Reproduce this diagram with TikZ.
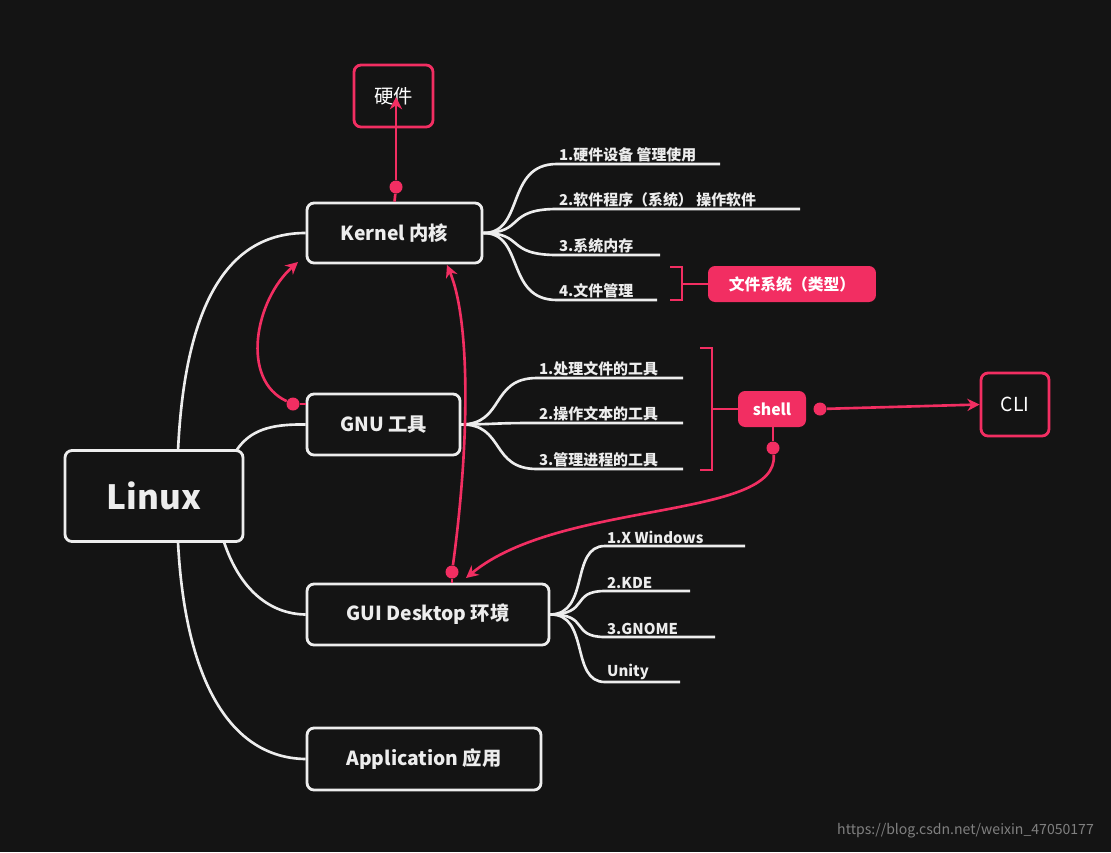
\documentclass[tikz,border=0pt]{standalone}
\usepackage{fontspec}
\setmainfont{Noto Sans CJK SC}
\usetikzlibrary{arrows.meta}
\definecolor{bg}{HTML}{141414}
\definecolor{wl}{HTML}{EDEDED}
\definecolor{pk}{HTML}{F22E62}
\begin{document}
\begin{tikzpicture}[x=0.02cm,y=-0.02cm,
 box/.style={draw=wl,line width=1.6pt,rounded corners=4pt,text=wl,font=\bfseries\fontsize{11}{13}\selectfont,inner sep=0pt},
 pbox/.style={draw=pk,line width=1.6pt,rounded corners=4pt,text=white,font=\fontsize{11}{13}\selectfont,inner sep=0pt},
 pfill/.style={fill=pk,rounded corners=4pt,text=white,font=\bfseries\fontsize{9}{11}\selectfont,inner sep=0pt},
 br/.style={draw=wl,line width=1.5pt},
 pl/.style={draw=pk,line width=1.5pt},
 item/.style={text=wl,font=\bfseries\fontsize{8.5}{10}\selectfont,anchor=south west,inner sep=1pt},
 dot/.style={circle,fill=pk,inner sep=0pt,minimum size=0.26cm},
 arr/.style={pl,-{Stealth[length=7pt,width=7pt]}}]
\fill[bg] (0,0) rectangle (1111,852);
\node[box,minimum width=3.56cm,minimum height=1.82cm,font=\bfseries\fontsize{19}{22}\selectfont] (linux) at (154,496) {Linux};
\node[box,minimum width=3.5cm,minimum height=1.2cm] (ker) at (394.5,233) {Kernel 内核};
\node[box,minimum width=3.06cm,minimum height=1.22cm] (gnu) at (383.5,424.5) {GNU 工具};
\node[box,minimum width=4.84cm,minimum height=1.22cm] (gui) at (428,614.5) {GUI Desktop 环境};
\node[box,minimum width=4.68cm,minimum height=1.24cm] (app) at (424,759) {Application 应用};
\node[pbox,minimum width=1.58cm,minimum height=1.24cm] (hw) at (393.5,96) {硬件};
\node[pbox,minimum width=1.36cm,minimum height=1.26cm] (cli) at (1015,404.5) {CLI};
\node[pfill,minimum width=1.36cm,minimum height=0.72cm] (sh) at (772,409) {shell};
\node[pfill,minimum width=3.36cm,minimum height=0.72cm] (fs) at (792,284) {文件系统（类型）};
% main branches
\draw[br] (178,451) .. controls (185,300) and (230,233) .. (ker.west);
\draw[br] (236,451) .. controls (250,430) and (270,424) .. (gnu.west);
\draw[br] (224,542) .. controls (240,590) and (270,614) .. (gui.west);
\draw[br] (178,542) .. controls (185,680) and (230,758) .. (app.west);
% kernel items
\foreach \y/\xe/\t [count=\i] in {164/720/1.硬件设备 管理使用,209/800/2.软件程序（系统） 操作软件,255/660/3.系统内存,300/657/4.文件管理}{
 \coordinate (k\i) at (557,\y);
 \draw[br] (ker.east) .. controls (525,233) and (505,\y) .. (k\i) -- (\xe,\y);
 \node[item] (kt\i) at (k\i) {\t};}
\foreach \y/\t [count=\i] in {378/1.处理文件的工具,423/2.操作文本的工具,469/3.管理进程的工具}{
 \coordinate (g\i) at (537,\y);
 \draw[br] (gnu.east) .. controls (505,424) and (490,\y) .. (g\i) -- (683,\y);
 \node[item] (gt\i) at (g\i) {\t};}
\foreach \y/\xe/\t [count=\i] in {546/745/1.X Windows,591/690/2.KDE,637/715/3.GNOME,682/680/Unity}{
 \coordinate (u\i) at (605,\y);
 \draw[br] (gui.east) .. controls (590,614) and (570,\y) .. (u\i) -- (\xe,\y);
 \node[item] (ut\i) at (u\i) {\t};}
% brackets
\draw[pl] (670,267) -- (682,267) -- (682,300) -- (670,300);
\draw[pl] (682,284) -- (fs.west);
\draw[pl] (700,348) -- (712,348) -- (712,470) -- (700,470);
\draw[pl] (712,409) -- (sh.west);
% pink connections
\node[dot] (d1) at (396,187) {};
\draw[pl] (ker.north) -- (d1);
\draw[arr] (d1) -- (396,97);
\node[dot] (d2) at (293,404) {};
\draw[pl] (gnu.west |- d2) -- (d2);
\draw[arr] (d2) .. controls (240,380) and (255,300) .. (298,262);
\node[dot] (d3) at (452,572) {};
\draw[pl] (d3) -- (gui.north -| d3);
\draw[arr] (d3) .. controls (470,440) and (470,320) .. (447,265);
\node[dot] (d4) at (820,409) {};
\draw[arr] (d4) -- (cli.west);
\node[dot] (d5) at (773,448) {};
\draw[pl] (sh.south -| d5) -- (d5);
\draw[arr] (d5) .. controls (780,520) and (560,500) .. (466,578);
\node[text=gray,anchor=east,font=\fontsize{8}{10}\selectfont] (wm) at (1100,831) {https://blog.csdn.net/weixin\_47050177};
\end{tikzpicture}
\end{document}
